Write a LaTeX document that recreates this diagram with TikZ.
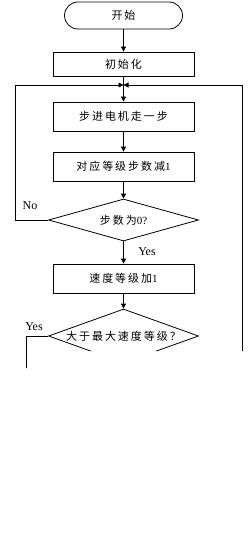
\documentclass[tikz,border=0pt]{standalone}
\usepackage{fontspec}
\setmainfont{Liberation Serif}
\newfontfamily\cjk[LetterSpace=18]{Noto Sans CJK SC}
\usetikzlibrary{shapes.geometric,arrows.meta}

\begin{document}
\begin{tikzpicture}[x=1pt,y=-1pt,font=\fontsize{11}{13}\selectfont,line width=0.8pt,
  flow/.style={-{Triangle[length=5pt,width=5pt]}},
  termbox/.style={draw,rounded corners=13.5pt,minimum width=118pt,minimum height=27pt,inner sep=0pt},
  procbox/.style={draw,minimum width=141pt,minimum height=29pt,inner sep=0pt},
  choice/.style={draw,diamond,minimum width=150pt,inner sep=0pt},
  yesno/.style={font=\fontsize{12}{14}\selectfont,inner sep=0pt}]
\useasboundingbox (0,0) rectangle (247,540);
\begin{scope}
\clip (0,0) -- (247,0) -- (247,351) -- (80,351) -- (80,359) -- (63,359) -- (63,368) -- (0,368) -- cycle;
\node[termbox] (start) at (123.5,15.5) {\cjk 开始};
\node[procbox,minimum height=24pt] (init) at (123.5,64) {\cjk 初始化};
\node[procbox] (step) at (123.5,116.5) {\cjk 步进电机走一步};
\node[procbox] (dec) at (123.5,166.5) {{\cjk 对应等级步数减}1};
\node[choice,minimum height=42pt,aspect=3.57] (zero) at (123.5,220) {{\cjk 步数为}0?};
\node[procbox] (speed) at (123.5,278.5) {{\cjk 速度等级加}1};
\node[choice,minimum height=54pt,aspect=2.9] (maxq) at (123.5,336) {\cjk 大于最大速度等级？};
\node[yesno] (nolabel) at (30,206) {No};
\node[yesno] (yeszero) at (147,252) {Yes};
\node[yesno] (yesmax) at (34,327) {Yes};
\coordinate (join) at (123.5,85);
\coordinate (rightend) at (242,380);
\foreach \from/\to in {start/init,init/step,step/dec,dec/zero,zero/speed,speed/maxq}
  \draw[flow] (\from) -- (\to);
\draw[flow] (zero.west) -- ++(-32.5,0) |- (join);
\draw[flow] (rightend) |- (join);
\draw (maxq.west) -- ++(-22,0) -- ++(0,50);
\end{scope}
\end{tikzpicture}
\end{document}
